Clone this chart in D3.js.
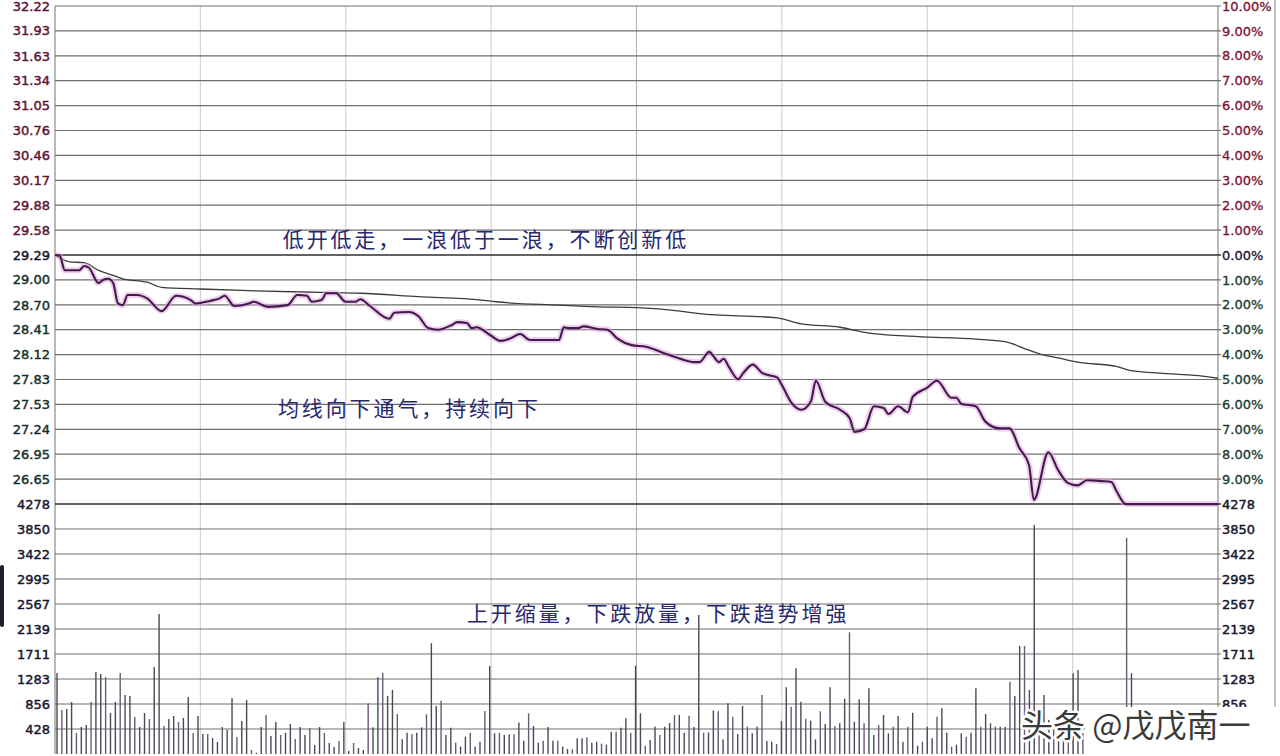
<!DOCTYPE html>
<html><head><meta charset="utf-8">
<script src="https://cdn.jsdelivr.net/npm/d3@7"></script>
<style>body{margin:0;background:#fff;overflow:hidden}svg{display:block}</style>
</head><body>
<svg id="chart" width="1280" height="756"></svg>
<script>
// ---------------- data ----------------
const prevClose = 29.29;
const priceTickLabels = ["32.22","31.93","31.63","31.34","31.05","30.76","30.46","30.17","29.88","29.58","29.29","29.00","28.70","28.41","28.12","27.83","27.53","27.24","26.95","26.65"];
const pctTickValues = [10,9,8,7,6,5,4,3,2,1,0,-1,-2,-3,-4,-5,-6,-7,-8,-9];
const volTickValues = [4278,3850,3422,2995,2567,2139,1711,1283,856,428];
const volTickValuesRight = [4278,3850,3422,2995,2567,2139,1711,1283,856];
const timeTicks = [0,30,60,90,120,150,180,210,240];

// price line [minute, price]
const pricePoints = [[0,29.29],[1,29.28],[2,29.11],[5,29.11],[6,29.16],[7,29.14],[9,28.96],[10,29.00],[11,29.01],[12,28.96],[13,28.72],[14,28.70],[15,28.82],[17,28.82],[19,28.78],[22,28.63],[25,28.81],[28,28.76],[29,28.72],[32,28.75],[34,28.78],[35,28.81],[37,28.69],[40,28.72],[41,28.74],[44,28.68],[48,28.70],[50,28.82],[52,28.81],[53,28.74],[55,28.76],[56,28.84],[58,28.84],[60,28.74],[62,28.74],[63,28.77],[65,28.69],[69,28.54],[70,28.61],[73,28.62],[75,28.57],[77,28.43],[79,28.41],[82,28.47],[83,28.50],[85,28.49],[86,28.43],[87,28.44],[90,28.34],[92,28.28],[94,28.31],[96,28.36],[98,28.29],[104,28.29],[105,28.44],[106,28.43],[108,28.43],[109,28.45],[112,28.42],[114,28.41],[116,28.31],[119,28.23],[122,28.21],[125,28.15],[128,28.09],[132,28.03],[133,28.03],[135,28.15],[136,28.09],[137,28.03],[138,28.07],[139,27.98],[141,27.83],[142,27.90],[144,28.00],[146,27.90],[147,27.88],[149,27.85],[150,27.76],[152,27.55],[154,27.47],[156,27.57],[157,27.81],[159,27.56],[162,27.47],[164,27.37],[165,27.21],[167,27.24],[169,27.51],[171,27.49],[172,27.42],[174,27.51],[176,27.44],[177,27.62],[180,27.73],[182,27.81],[185,27.61],[186,27.61],[187,27.54],[190,27.51],[192,27.33],[195,27.25],[197,27.25],[199,27.02],[201,26.82],[202,26.41],[205,26.97],[207,26.76],[209,26.61],[211,26.58],[213,26.64],[216,26.63],[218,26.62],[219,26.52],[221,26.36],[240,26.36]];

// average price line [minute, price]
const avgPoints = [[0,29.29],[3,29.21],[6,29.20],[9,29.11],[12,29.05],[14,29.01],[19,28.97],[22,28.91],[30,28.89],[40,28.87],[55,28.85],[63,28.84],[75,28.80],[88,28.76],[91,28.74],[104,28.70],[112,28.68],[120,28.67],[129,28.63],[133,28.60],[149,28.55],[154,28.48],[162,28.44],[168,28.37],[178,28.33],[190,28.30],[196,28.27],[201,28.17],[203,28.13],[207,28.08],[211,28.03],[219,27.98],[222,27.93],[228,27.90],[236,27.87],[240,27.84]];

// per-minute volume
const volumes = [
1387,753,770,890,360,462,496,890,1404,1370,
1318,702,890,1387,1010,993,633,462,702,599,
1490,2397,479,599,650,548,616,976,360,650,
342,342,274,205,462,411,959,291,565,924,
68,20,462,668,308,548,325,360,514,257,
462,325,445,154,462,
360,188,120,222,548,51,188,103,68,867,
456,1313,1392,993,1096,685,251,365,337,365,
456,679,1895,822,913,325,451,194,126,297,
365,126,211,736,1507,354,365,325,337,337,
537,228,696,479,194,228,462,228,228,126,
86,80,268,268,285,194,211,177,160,382,
382,451,611,365,1512,696,143,240,468,325,
468,530,668,668,365,656,462,2380,365,370,
745,730,
251,867,639,342,822,468,354,468,1010,222,
211,171,565,1141,810,1467,896,605,570,251,
730,514,1141,479,525,947,2083,553,936,525,
1124,325,497,668,354,468,651,211,468,707,
143,211,468,268,639,782,365,126,160,
354,297,365,1124,468,685,525,468,468,468,
1238,993,1849,1849,1096,3920,354,1010,582,411,
525,479,525,1381,1438,354,
420,380,510,300,460,350,560,610,3698,1381,
300,210,150,180,120,90,140,110,80,100,
60,90,70,50,80,60,40,120];

const annotations = [
  {text:"低开低走，一浪低于一浪，不断创新低", minute:47, price:29.38},
  {text:"均线向下通气，持续向下", minute:46, price:27.40},
  {text:"上开缩量，下跌放量，下跌趋势增强", minute:85, vol:2270}
];
const watermark = "头条 @戊戊南一";

// ---------------- layout ----------------
const L = 55, R = 1218, T = 6, MID = 504, B = 754;
const svg = d3.select("#chart");
svg.append("rect").attr("width",1280).attr("height",756).attr("fill","#fff");

const x = d3.scaleLinear().domain([0,240]).range([L,R]);
const xBar = d3.scaleLinear().domain([0,volumes.length-1]).range([57,1219]);
const yP = d3.scaleLinear().domain([prevClose*0.9, prevClose*1.1]).range([MID,T]);
const yPct = d3.scaleLinear().domain([-10,10]).range([MID,T]);
const yV = d3.scaleLinear().domain([0,4278]).range([B,MID]);

const font = "'DejaVu Sans', Verdana, sans-serif";

// vertical grid
svg.append("g").selectAll("line").data(timeTicks).join("line")
  .attr("x1",d=>x(d)).attr("x2",d=>x(d)).attr("y1",T).attr("y2",B)
  .attr("stroke",d=> (d===0||d===240)?"#8a8a8a":(d===120?"#b4b4b4":"#d0d0d0"))
  .attr("stroke-width",d=> (d===0||d===240)?1.2:1.1);

// horizontal price grid
svg.append("g").selectAll("line").data(pctTickValues).join("line")
  .attr("x1",L).attr("x2",R+3).attr("y1",d=>yPct(d)).attr("y2",d=>yPct(d))
  .attr("stroke",d=>d===0?"#2e2e2e":"#6e6e6e").attr("stroke-width",d=>d===0?1.7:1.2);

// volume grid
svg.append("g").selectAll("line").data(volTickValues).join("line")
  .attr("x1",L).attr("x2",R+3).attr("y1",d=>yV(d)).attr("y2",d=>yV(d))
  .attr("stroke",d=>d===4278?"#2e2e2e":"#6e6e6e").attr("stroke-width",d=>d===4278?1.7:1.2);

// volume bars
svg.append("g").selectAll("line").data(volumes).join("line")
  .attr("x1",(d,i)=>xBar(i)).attr("x2",(d,i)=>xBar(i))
  .attr("y1",yV(0)).attr("y2",d=>yV(d))
  .attr("stroke",(d,i)=> i%3===1 ? "#6a5a72" : "#4a4a56").attr("stroke-width",1.4);

// average line
const line = d3.line().x(d=>x(d[0])).y(d=>yP(d[1])).curve(d3.curveMonotoneX);
svg.append("path").datum(avgPoints).attr("d",line)
  .attr("fill","none").attr("stroke","#3c3c3c").attr("stroke-width",1.3);

// price line with soft pink halo
svg.append("path").datum(pricePoints).attr("d",line)
  .attr("fill","none").attr("stroke","#e6a6dc").attr("stroke-width",6).attr("opacity",0.55);
svg.append("path").datum(pricePoints).attr("d",line)
  .attr("fill","none").attr("stroke","#3f1c4e").attr("stroke-width",2.1);

// left price labels
const priceColor = d => +d>prevClose+0.001 ? "#5e1436" : (Math.abs(+d-prevClose)<0.001 ? "#14142e" : "#18302a");
svg.append("g").selectAll("text").data(priceTickLabels).join("text")
  .attr("x",50).attr("y",d=>yP(+d)).attr("dy","0.36em").attr("text-anchor","end")
  .attr("font-family",font).attr("font-size",13)
  .attr("fill",priceColor).attr("stroke",priceColor).attr("stroke-width",0.45)
  .text(d=>d);

// right pct labels
const pctColor = d => d>0?"#7a1232":(d===0?"#1a1030":"#163a30");
svg.append("g").selectAll("text").data(pctTickValues).join("text")
  .attr("x",1222).attr("y",d=>yPct(d)).attr("dy","0.36em").attr("text-anchor","start")
  .attr("font-family",font).attr("font-size",13)
  .attr("fill",pctColor).attr("stroke",pctColor).attr("stroke-width",0.3)
  .text(d=>Math.abs(d).toFixed(2)+"%");

// volume labels left and right
[[50,"end",volTickValues],[1222,"start",volTickValuesRight]].forEach(([lx,anchor,vals])=>{
  svg.append("g").selectAll("text").data(vals).join("text")
    .attr("x",lx).attr("y",d=>yV(d)).attr("dy","0.36em").attr("text-anchor",anchor)
    .attr("font-family",font).attr("font-size",13)
    .attr("fill","#161630").attr("stroke","#161630").attr("stroke-width",0.45)
    .text(d=>d);
});

// annotations
svg.append("g").selectAll("text").data(annotations).join("text")
  .attr("x",d=>x(d.minute))
  .attr("y",d=> d.vol!==undefined ? yV(d.vol) : yP(d.price))
  .attr("font-family","'Noto Sans CJK SC','Noto Sans CJK JP',sans-serif")
  .attr("font-size",21).attr("letter-spacing",2.9)
  .attr("fill","#28286e")
  .text(d=>d.text);

// right outer border
svg.append("line").attr("x1",1275).attr("x2",1275).attr("y1",0).attr("y2",707)
  .attr("stroke","#9a9a9a").attr("stroke-width",1.2);

// left edge artifact
svg.append("rect").attr("x",0).attr("y",565).attr("width",4).attr("height",62).attr("rx",2).attr("fill","#1c1c2c");

// watermark box + text
svg.append("rect").attr("x",1085).attr("y",707).attr("width",195).attr("height",49).attr("fill","#fff");
svg.append("text").attr("x",1021).attr("y",737)
  .attr("font-family","'Noto Sans CJK SC',sans-serif").attr("font-size",32)
  .attr("fill","#3a3a3a").attr("stroke","#ffffff").attr("stroke-width",5)
  .attr("paint-order","stroke").attr("stroke-linejoin","round")
  .text(watermark);
</script>
</body></html>
